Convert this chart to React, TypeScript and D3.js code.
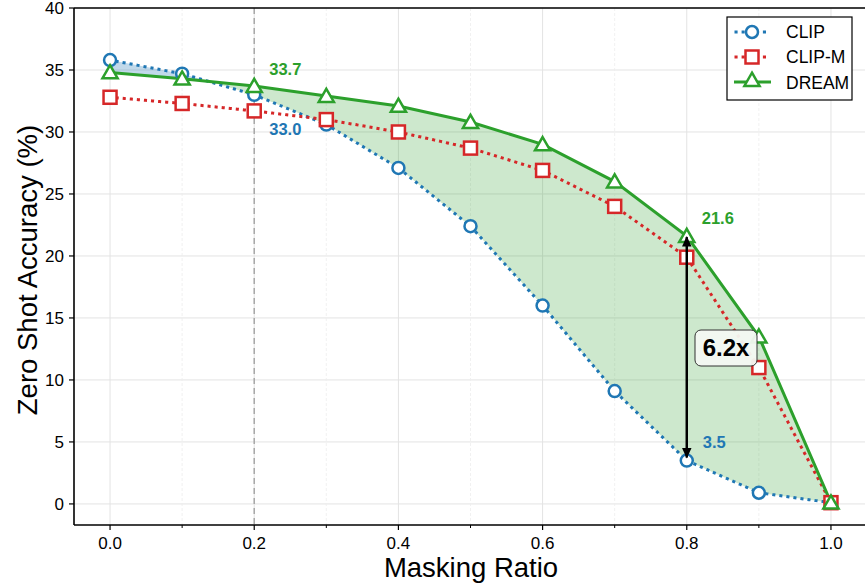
import React from 'react';
import * as d3 from 'd3';

const ratios = [0.0, 0.1, 0.2, 0.3, 0.4, 0.5, 0.6, 0.7, 0.8, 0.9, 1.0];
const clip = [35.8, 34.7, 33.0, 30.6, 27.1, 22.4, 16.0, 9.1, 3.5, 0.9, 0.1];
const clipM = [32.8, 32.3, 31.7, 31.0, 30.0, 28.7, 26.9, 24.0, 19.9, 11.0, 0.1];
const dream = [34.8, 34.3, 33.7, 32.9, 32.1, 30.8, 29.0, 26.0, 21.6, 13.5, 0.1];
const xTicks = [0.0, 0.2, 0.4, 0.6, 0.8, 1.0];
const xMinor = [0.1, 0.3, 0.5, 0.7, 0.9];
const yTicks = [0, 5, 10, 15, 20, 25, 30, 35, 40];

const BLUE = '#1f77b4';
const RED = '#d62728';
const GREEN = '#2ca02c';
const FONT = '"Liberation Sans", Arial, sans-serif';

const W = 865, H = 588;
const m = { left: 74, top: 8, right: -2, bottom: 63 };

export default function App() {
  const x = d3.scaleLinear().domain([-0.05, 1.05]).range([m.left, W - m.right]);
  const y = d3.scaleLinear().domain([-1.7, 40]).range([H - m.bottom, m.top]);

  const line = d3.line<number>().x((_, i) => x(ratios[i])).y(d => y(d));

  // split area between CLIP and DREAM where the sign changes
  type P = { r: number; a: number; b: number };
  const pts: P[] = [];
  ratios.forEach((r, i) => {
    pts.push({ r, a: clip[i], b: dream[i] });
    if (i < ratios.length - 1) {
      const d0 = clip[i] - dream[i], d1 = clip[i + 1] - dream[i + 1];
      if (d0 * d1 < 0) {
        const t = d0 / (d0 - d1);
        const rr = r + t * (ratios[i + 1] - r);
        const v = clip[i] + t * (clip[i + 1] - clip[i]);
        pts.push({ r: rr, a: v, b: v });
      }
    }
  });
  const area = d3.area<P>().x(d => x(d.r)).y0(d => y(d.a)).y1(d => y(d.b));
  const bluePts = pts.filter(p => p.a >= p.b);
  const greenPts = pts.filter(p => p.a <= p.b);

  const tri = d3.symbol(d3.symbolTriangle, 100)();

  const marker = (kind: string, cx: number, cy: number, key: string) => {
    if (kind === 'o') return <circle key={key} cx={cx} cy={cy} r={6} fill="white" stroke={BLUE} strokeWidth={2.5} />;
    if (kind === 's') return <rect key={key} x={cx - 6.5} y={cy - 6.5} width={13} height={13} fill="white" stroke={RED} strokeWidth={2.5} />;
    return <path key={key} d={tri!} transform={`translate(${cx},${cy + 1.5})`} fill="white" stroke={GREEN} strokeWidth={2.5} />;
  };

  const x08 = x(0.8);
  const yTop = y(dream[8]);
  const yBot = y(clip[8]);

  return (
    <svg width={W} height={H} style={{ position: 'absolute', left: 0, top: 0 }} fontFamily={FONT}>
      <defs>
        <marker id="ah" viewBox="0 0 10 10" refX="9" refY="5" markerWidth="4.2" markerHeight="4.2" orient="auto-start-reverse">
          <path d="M0,0.5 L10,5 L0,9.5 Z" fill="black" />
        </marker>
        <clipPath id="plot">
          <rect x={m.left} y={m.top} width={W - m.right - m.left} height={H - m.bottom - m.top} />
        </clipPath>
      </defs>
      {/* grid */}
      {yTicks.map(t => (
        <line key={'gy' + t} x1={m.left} x2={W} y1={y(t)} y2={y(t)} stroke="#e3e3e3" strokeWidth={1} />
      ))}
      {xTicks.map(t => (
        <line key={'gx' + t} x1={x(t)} x2={x(t)} y1={m.top} y2={H - m.bottom} stroke="#e3e3e3" strokeWidth={1} />
      ))}
      {xMinor.map(t => (
        <line key={'gm' + t} x1={x(t)} x2={x(t)} y1={m.top} y2={H - m.bottom} stroke="#ededed" strokeWidth={0.8} strokeDasharray="3,2" />
      ))}
      {/* reference line */}
      <line x1={x(0.2)} x2={x(0.2)} y1={m.top} y2={H - m.bottom} stroke="#a8a8a8" strokeWidth={1.5} strokeDasharray="6,4" />
      <g clipPath="url(#plot)">
        <path d={area(bluePts)!} fill={BLUE} fillOpacity={0.28} />
        <path d={area(greenPts)!} fill={GREEN} fillOpacity={0.24} />
        <path d={line(clip)!} fill="none" stroke={BLUE} strokeWidth={3} strokeDasharray="0.1,7" strokeLinecap="square" />
        <path d={line(clipM)!} fill="none" stroke={RED} strokeWidth={3} strokeDasharray="0.1,7" strokeLinecap="square" />
        <path d={line(dream)!} fill="none" stroke={GREEN} strokeWidth={3} />
        {clip.map((v, i) => marker('o', x(ratios[i]), y(v), 'c' + i))}
        {clipM.map((v, i) => marker('s', x(ratios[i]), y(v), 'm' + i))}
        {dream.map((v, i) => marker('^', x(ratios[i]), y(v), 'd' + i))}
      </g>
      {/* annotations */}
      <text x={x(0.2) + 15} y={75} fill={GREEN} fontSize={16.5} fontWeight="bold">{dream[2].toFixed(1)}</text>
      <text x={x(0.2) + 15} y={135} fill={BLUE} fontSize={16.5} fontWeight="bold">{clip[2].toFixed(1)}</text>
      <text x={x08 + 15} y={yTop - 12} fill={GREEN} fontSize={16.5} fontWeight="bold">{dream[8].toFixed(1)}</text>
      <text x={x08 + 16} y={yBot - 13} fill={BLUE} fontSize={16.5} fontWeight="bold">{clip[8].toFixed(1)}</text>
      <line x1={x08} x2={x08} y1={yTop + 1} y2={yBot - 3} stroke="black" strokeWidth={2.5} markerStart="url(#ah)" markerEnd="url(#ah)" />
      <rect x={695} y={330} width={62} height={36} rx={6} fill="#f3f8f2" fillOpacity={0.95} stroke="#333" strokeWidth={1} />
      <text x={726} y={356} textAnchor="middle" fontSize={24} fontWeight="bold">{(dream[8] / clip[8]).toFixed(1)}x</text>
      {/* axes */}
      <line x1={m.left} x2={m.left} y1={m.top} y2={H - m.bottom} stroke="black" strokeWidth={1.6} />
      <line x1={m.left} x2={W} y1={H - m.bottom} y2={H - m.bottom} stroke="black" strokeWidth={1.6} />
      <line x1={m.left} x2={W} y1={m.top} y2={m.top} stroke="black" strokeWidth={1.6} />
      {yTicks.map(t => (
        <g key={'ty' + t}>
          <line x1={m.left - 5} x2={m.left} y1={y(t)} y2={y(t)} stroke="black" strokeWidth={1.2} />
          <text x={m.left - 10} y={y(t) + 6} textAnchor="end" fontSize={17}>{t}</text>
        </g>
      ))}
      {xTicks.map(t => (
        <g key={'tx' + t}>
          <line x1={x(t)} x2={x(t)} y1={H - m.bottom} y2={H - m.bottom + 5} stroke="black" strokeWidth={1.2} />
          <text x={x(t)} y={549} textAnchor="middle" fontSize={17}>{t.toFixed(1)}</text>
        </g>
      ))}
      {xMinor.map(t => (
        <line key={'tm' + t} x1={x(t)} x2={x(t)} y1={H - m.bottom} y2={H - m.bottom + 3} stroke="black" strokeWidth={1} />
      ))}
      <text x={471} y={577} textAnchor="middle" fontSize={27.5}>Masking Ratio</text>
      <text transform={`translate(37,270) rotate(-90)`} textAnchor="middle" fontSize={27.5}>Zero Shot Accuracy (%)</text>
      {/* legend */}
      <g transform="translate(727,17)">
        <rect x={0} y={0} width={125} height={83} fill="white" stroke="black" strokeWidth={1.2} />
        <line x1={9} x2={41} y1={15} y2={15} stroke={BLUE} strokeWidth={3} strokeDasharray="0.1,7" strokeLinecap="square" />
        {marker('o', 25, 15, 'lo')}
        <text x={59} y={21} fontSize={17.5}>CLIP</text>
        <line x1={9} x2={41} y1={40} y2={40} stroke={RED} strokeWidth={3} strokeDasharray="0.1,7" strokeLinecap="square" />
        {marker('s', 25, 40, 'ls')}
        <text x={59} y={46} fontSize={17.5}>CLIP-M</text>
        <line x1={7} x2={44} y1={65} y2={65} stroke={GREEN} strokeWidth={3} />
        {marker('^', 25, 63, 'lt')}
        <text x={59} y={72} fontSize={17.5}>DREAM</text>
      </g>
    </svg>
  );
}
